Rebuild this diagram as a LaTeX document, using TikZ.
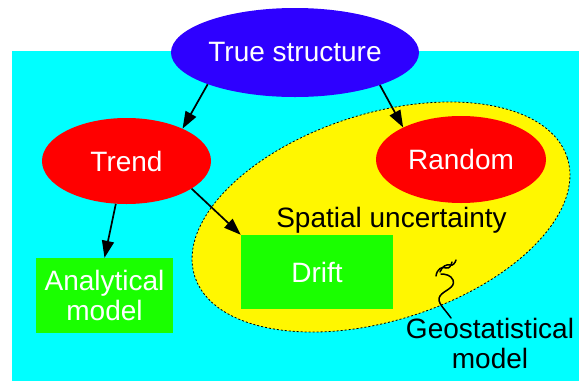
\documentclass[tikz,border=0pt]{standalone}
\usepackage{fontspec}
\setmainfont{Liberation Sans}
\usetikzlibrary{shapes.geometric,arrows.meta}
\definecolor{bgcyan}{RGB}{0,255,255}
\definecolor{tsblue}{RGB}{46,0,255}
\definecolor{nodered}{RGB}{255,0,0}
\definecolor{boxgreen}{RGB}{26,255,0}
\definecolor{uncyellow}{RGB}{255,247,0}
\begin{document}
\begin{tikzpicture}[x=1pt,y=-1pt,
  txt/.style={font=\fontsize{28}{30}\selectfont},
  oval/.style={ellipse, inner sep=0pt, txt, text=white},
  box/.style={rectangle, inner sep=0pt, fill=boxgreen, txt, text=white, align=center},
  arr/.style={line width=1.7pt, -{Triangle[length=17pt,width=12pt]}},
  squig/.style={line width=1.5pt, line cap=round}]
\useasboundingbox (0,0) rectangle (579,381);
\fill[bgcyan] (12,51) rectangle (579,381);
\node[ellipse, draw=black, dash pattern=on 2pt off 2pt, line width=0.8pt, fill=uncyellow,
      minimum width=391pt, minimum height=207pt, inner sep=0pt, rotate=17.6] (unc) at (381,217) {};
\node[oval, fill=tsblue, minimum width=248pt, minimum height=89pt] (ts) at (295,52.5) {True structure};
\node[oval, fill=nodered, minimum width=169pt, minimum height=86pt] (trend) at (126.5,161) {Trend};
\node[oval, fill=nodered, minimum width=170pt, minimum height=87pt] (random) at (461,159.5) {Random};
\node[box, minimum width=152pt, minimum height=74pt] (drift) at (317,272) {Drift};
\node[box, minimum width=137pt, minimum height=75pt] (anal) at (104.5,295.5) {Analytical\\model};
\node[txt] (spatial) at (391.5,220) {Spatial uncertainty};
\node[txt, align=center] (geo) at (490,343) {Geostatistical\\model};
\draw[arr] (ts.200) -- (trend.30);
\draw[arr] (ts.339) -- (random.151);
\draw[arr] (trend.256) -- (anal.north);
\draw[arr] (trend.337) -- (drift.north west);
\coordinate (sq) at (451,318);
\draw[squig] (sq) .. controls (444,308) and (436,302) .. (440,296)
  .. controls (444,290) and (456,288) .. (453,280)
  .. controls (451,275) and (445,274) .. (441,274);
\draw[squig] (436,276) .. controls (437,269) and (442,266) .. (446,268)
  .. controls (450,269) and (451,265) .. (452,262);
\draw[squig] (440,272) .. controls (442,266) and (447,264) .. (450,265)
  .. controls (453,266) and (455,263) .. (456,260);
\end{tikzpicture}
\end{document}
